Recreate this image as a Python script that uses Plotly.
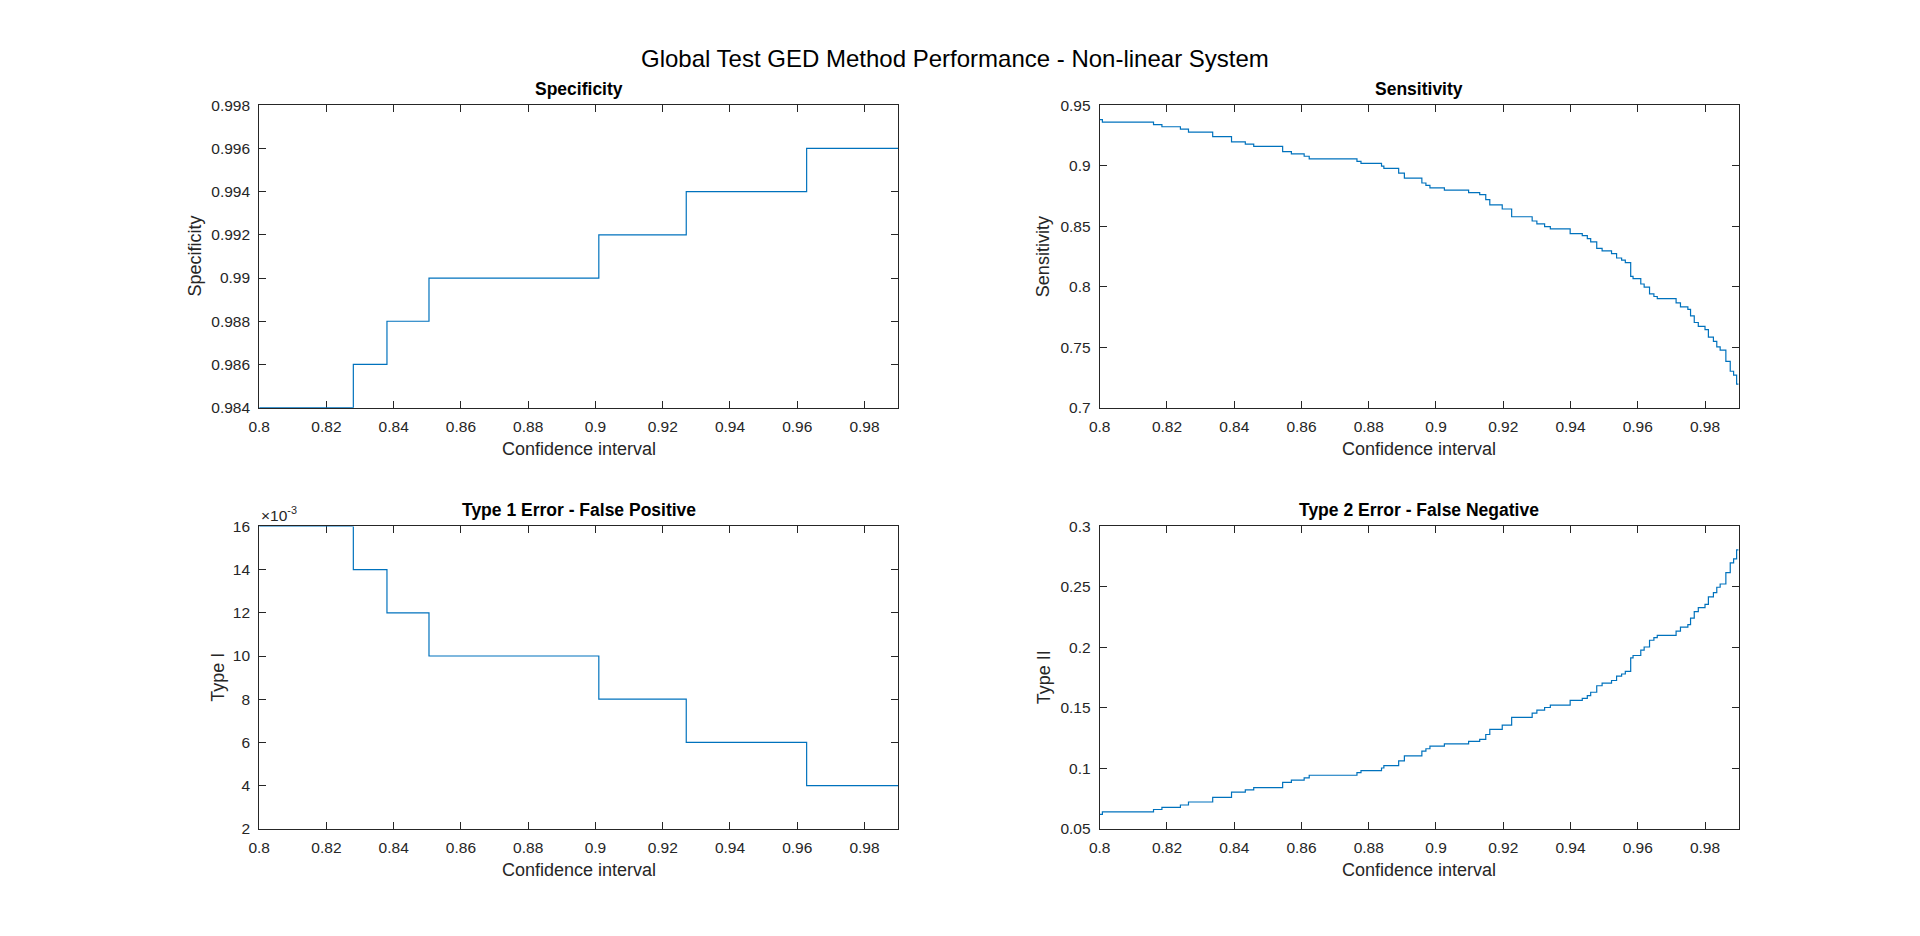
# external
import plotly
import plotly.graph_objects


##########
# Inputs #
##########

figure_title = "Global Test GED Method Performance - Non-linear System"
x_axis_title = "Confidence interval"

# confidence interval axis
ci_range = [0.8, 0.99]
ci_ticks = [0.8, 0.82, 0.84, 0.86, 0.88, 0.9, 0.92, 0.94, 0.96, 0.98]
ci_tick_labels = ["0.8", "0.82", "0.84", "0.86", "0.88", "0.9", "0.92", "0.94", "0.96", "0.98"]

# specificity (step changes)
specificity_ci = [0.8, 0.828, 0.838, 0.8505, 0.901, 0.927, 0.9628, 0.99]
specificity = [0.984, 0.986, 0.988, 0.990, 0.992, 0.994, 0.996, 0.996]
specificity_ticks = [0.984, 0.986, 0.988, 0.99, 0.992, 0.994, 0.996, 0.998]
specificity_tick_labels = ["0.984", "0.986", "0.988", "0.99", "0.992", "0.994", "0.996", "0.998"]

# type 1 error (step changes)
type1_ci = [0.8, 0.828, 0.838, 0.8505, 0.901, 0.927, 0.9628, 0.99]
type1 = [0.016, 0.014, 0.012, 0.010, 0.008, 0.006, 0.004, 0.004]
type1_ticks = [0.002, 0.004, 0.006, 0.008, 0.010, 0.012, 0.014, 0.016]
type1_tick_labels = ["2", "4", "6", "8", "10", "12", "14", "16"]

# sensitivity and type 2 error (step changes)
sensitivity_ci = [
    0.8000, 0.8008, 0.8160, 0.8185, 0.8240, 0.8264, 0.8336, 0.8392, 0.8433, 0.8458,
    0.8544, 0.8570, 0.8608, 0.8623, 0.8765, 0.8777, 0.8838, 0.8845, 0.8889, 0.8906,
    0.8958, 0.8970, 0.8982, 0.9025, 0.9097, 0.9130, 0.9148, 0.9160, 0.9197, 0.9225,
    0.9286, 0.9300, 0.9323, 0.9340, 0.9399, 0.9435, 0.9450, 0.9460, 0.9478, 0.9494,
    0.9522, 0.9537, 0.9552, 0.9563, 0.9579, 0.9586, 0.9609, 0.9619, 0.9635, 0.9648,
    0.9658, 0.9714, 0.9727, 0.9749, 0.9757, 0.9768, 0.9780, 0.9800, 0.9810, 0.9825,
    0.9835, 0.9845, 0.9862, 0.9875, 0.9885, 0.9894, 0.9900
]
sensitivity = [
    0.9381, 0.9360, 0.9340, 0.9322, 0.9303, 0.9278, 0.9240, 0.9197, 0.9178, 0.9160,
    0.9116, 0.9097, 0.9078, 0.9057, 0.9035, 0.9019, 0.8997, 0.8978, 0.8938, 0.8897,
    0.8857, 0.8838, 0.8817, 0.8798, 0.8777, 0.8761, 0.8720, 0.8677, 0.8642, 0.8578,
    0.8543, 0.8519, 0.8497, 0.8478, 0.8438, 0.8422, 0.8398, 0.8371, 0.8317, 0.8296,
    0.8274, 0.8237, 0.8220, 0.8199, 0.8086, 0.8067, 0.8022, 0.7997, 0.7941, 0.7919,
    0.7901, 0.7866, 0.7833, 0.7812, 0.7758, 0.7704, 0.7672, 0.7645, 0.7583, 0.7548,
    0.7503, 0.7476, 0.7382, 0.7301, 0.7269, 0.7194, 0.7194
]
sensitivity_ticks = [0.7, 0.75, 0.8, 0.85, 0.9, 0.95]
sensitivity_tick_labels = ["0.7", "0.75", "0.8", "0.85", "0.9", "0.95"]

type2 = [
    0.0619, 0.0640, 0.0660, 0.0678, 0.0697, 0.0722, 0.0760, 0.0803, 0.0822, 0.0840,
    0.0884, 0.0903, 0.0922, 0.0943, 0.0965, 0.0981, 0.1003, 0.1022, 0.1062, 0.1103,
    0.1143, 0.1162, 0.1183, 0.1202, 0.1223, 0.1239, 0.1280, 0.1323, 0.1358, 0.1422,
    0.1457, 0.1481, 0.1503, 0.1522, 0.1562, 0.1578, 0.1602, 0.1629, 0.1683, 0.1704,
    0.1726, 0.1763, 0.1780, 0.1801, 0.1914, 0.1933, 0.1978, 0.2003, 0.2059, 0.2081,
    0.2099, 0.2134, 0.2167, 0.2188, 0.2242, 0.2296, 0.2328, 0.2355, 0.2417, 0.2452,
    0.2497, 0.2524, 0.2618, 0.2699, 0.2731, 0.2806, 0.2806
]
type2_ticks = [0.05, 0.1, 0.15, 0.2, 0.25, 0.3]
type2_tick_labels = ["0.05", "0.1", "0.15", "0.2", "0.25", "0.3"]


##########
# Styles #
##########

width = 1920
height = 936
font_family = "Liberation Sans, Arial, Helvetica, sans-serif"
line_colour = "#0072BD"
axis_colour = "#262626"

# subplot domains (paper fractions), taken from the matlab subplot layout
x_domain_left = [0.13, 0.4647]
x_domain_right = [0.5703, 0.905]
y_domain_top = [0.5662, 0.8953]
y_domain_bottom = [0.1079, 0.4370]


#########################
# Functions and classes #
#########################

def make_axis(domain, anchor, tickvals, ticktext, axis_range):
    return {
        "domain": domain,
        "anchor": anchor,
        "range": axis_range,
        "tickvals": tickvals,
        "ticktext": ticktext,
        "ticks": "inside",
        "ticklen": 7,
        "tickwidth": 1,
        "tickcolor": axis_colour,
        "ticklabelstandoff": 5,
        "showline": True,
        "linecolor": axis_colour,
        "linewidth": 1,
        "mirror": "ticks",
        "layer": "below traces",        # the curve is drawn over the box edge
        "showgrid": False,
        "zeroline": False,
        "tickfont": {"size": 15.5, "color": axis_colour, "family": font_family},
    }


################
# Prepare data #
################

panels = [
    # (x, y, xaxis, yaxis)
    (specificity_ci, specificity, "x", "y"),
    (sensitivity_ci, sensitivity, "x2", "y2"),
    (type1_ci, type1, "x3", "y3"),
    (sensitivity_ci, type2, "x4", "y4"),
]

plot_data = []
for x_values, y_values, xaxis, yaxis in panels:
    plot_data += [
        plotly.graph_objects.Scatter(
            x=x_values,
            y=y_values,
            mode="lines",
            line={"color": line_colour, "width": 1.2, "shape": "hv"},
            xaxis=xaxis,
            yaxis=yaxis,
            showlegend=False,
            hoverinfo="x+y"
        )
    ]


###############
# Annotations #
###############

subplot_titles = [
    ("Specificity", x_domain_left, y_domain_top),
    ("Sensitivity", x_domain_right, y_domain_top),
    ("Type 1 Error - False Positive", x_domain_left, y_domain_bottom),
    ("Type 2 Error - False Negative", x_domain_right, y_domain_bottom),
]

# y label text and its offset (px) left of the axis line
y_labels = [
    ("Specificity", x_domain_left, y_domain_top, 64),
    ("Sensitivity", x_domain_right, y_domain_top, 56),
    ("Type I", x_domain_left, y_domain_bottom, 42),
    ("Type II", x_domain_right, y_domain_bottom, 56),
]

annotations = [
    {
        "text": figure_title,
        "xref": "paper", "yref": "paper",
        "x": 632 / width, "y": 1 - 50 / height,
        "xanchor": "left", "yanchor": "middle",
        "showarrow": False,
        "font": {"size": 24, "color": "#000000", "family": font_family}
    }
]

for text, x_domain, y_domain in subplot_titles:
    annotations += [{
        "text": f"<b>{text}</b>",
        "xref": "paper", "yref": "paper",
        "x": sum(x_domain) / 2, "y": y_domain[1],
        "xanchor": "center", "yanchor": "bottom",
        "yshift": 4,
        "showarrow": False,
        "font": {"size": 17.5, "color": "#000000", "family": font_family}
    }]
    # x axis title
    annotations += [{
        "text": x_axis_title,
        "xref": "paper", "yref": "paper",
        "x": sum(x_domain) / 2, "y": y_domain[0],
        "xanchor": "center", "yanchor": "middle",
        "yshift": -41,
        "showarrow": False,
        "font": {"size": 18, "color": axis_colour, "family": font_family}
    }]

for text, x_domain, y_domain, offset in y_labels:
    annotations += [{
        "text": text,
        "xref": "paper", "yref": "paper",
        "x": x_domain[0], "y": sum(y_domain) / 2,
        "xanchor": "center", "yanchor": "middle",
        "xshift": -offset,
        "textangle": -90,
        "showarrow": False,
        "font": {"size": 18, "color": axis_colour, "family": font_family}
    }]

# exponent label of the type 1 axis
annotations += [{
    "text": "\u00d710<sup>-3</sup>",
    "xref": "paper", "yref": "paper",
    "x": x_domain_left[0], "y": y_domain_bottom[1],
    "xanchor": "left", "yanchor": "bottom",
    "showarrow": False,
    "font": {"size": 15.5, "color": axis_colour, "family": font_family}
}]


#################
# Create layout #
#################

plot_layout = plotly.graph_objects.Layout(
    width=width,
    height=height,
    paper_bgcolor="white",
    plot_bgcolor="white",
    margin={"l": 0, "r": 0, "t": 0, "b": 0, "pad": 0},
    font={"family": font_family, "color": axis_colour},
    xaxis=make_axis(x_domain_left, "y", ci_ticks, ci_tick_labels, ci_range),
    yaxis=make_axis(y_domain_top, "x", specificity_ticks, specificity_tick_labels, [0.984, 0.998]),
    xaxis2=make_axis(x_domain_right, "y2", ci_ticks, ci_tick_labels, ci_range),
    yaxis2=make_axis(y_domain_top, "x2", sensitivity_ticks, sensitivity_tick_labels, [0.7, 0.95]),
    xaxis3=make_axis(x_domain_left, "y3", ci_ticks, ci_tick_labels, ci_range),
    yaxis3=make_axis(y_domain_bottom, "x3", type1_ticks, type1_tick_labels, [0.002, 0.016]),
    xaxis4=make_axis(x_domain_right, "y4", ci_ticks, ci_tick_labels, ci_range),
    yaxis4=make_axis(y_domain_bottom, "x4", type2_ticks, type2_tick_labels, [0.05, 0.3]),
    annotations=annotations
)


#############
# Save plot #
#############

figure = plotly.graph_objects.Figure(plot_data, plot_layout)
figure.write_html(
    "out.html",
    config={"displayModeBar": False},
    post_script="document.body.style.margin = '0';"
)
